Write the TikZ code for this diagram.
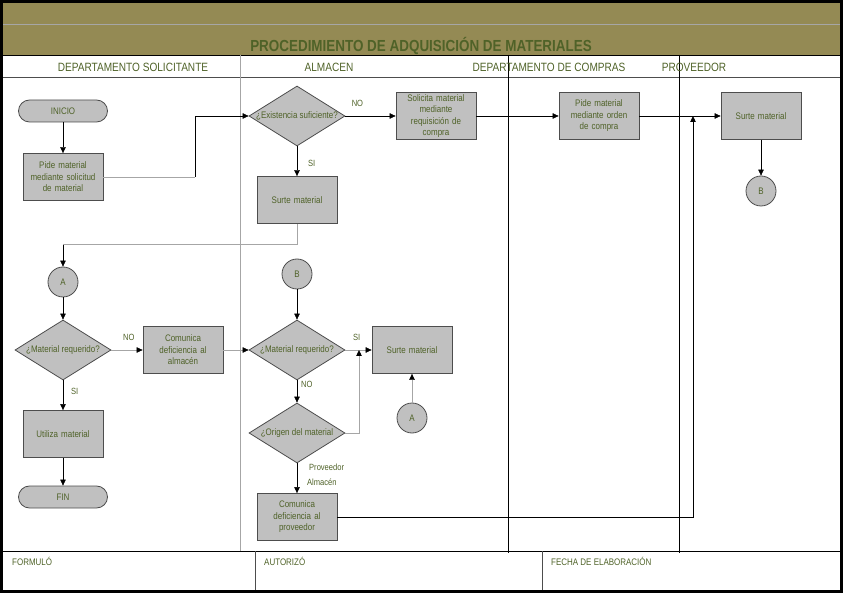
\documentclass[tikz,border=0pt]{standalone}
\usepackage{fontspec}
\setmainfont{Liberation Sans}
\newfontfamily\narrowsf{Liberation Sans}[FakeStretch=0.84]
\usetikzlibrary{shapes.geometric,arrows.meta}
\definecolor{bandolive}{HTML}{948A54}
\definecolor{txtgreen}{HTML}{4F6228}
\definecolor{boxgray}{HTML}{C0C0C0}
\definecolor{edgegray}{HTML}{4D4D4D}
\definecolor{linegray}{HTML}{A6A6A6}
\begin{document}
\begin{tikzpicture}[x=1pt,y=-1pt,
    >={Triangle[length=6pt,width=5.5pt]},
    font=\narrowsf\fontsize{9.5}{11.5}\selectfont, text=txtgreen,
    box/.style={draw=edgegray,fill=boxgray,line width=.8pt,minimum width=80pt,minimum height=47pt,text width=76pt,align=center,inner sep=0pt},
    dec/.style={diamond,aspect=1.6,draw=edgegray,fill=boxgray,line width=.8pt,minimum width=96pt,minimum height=60pt,inner sep=0pt},
    term/.style={draw=edgegray,fill=boxgray,line width=.8pt,rounded corners=11pt,minimum width=89pt,minimum height=22pt},
    conn/.style={circle,draw=edgegray,fill=boxgray,line width=.8pt,minimum size=30pt,inner sep=0pt},
    lbl/.style={font=\narrowsf\fontsize{9}{11}\selectfont,inner sep=0pt},
    lane/.style={font=\narrowsf\fontsize{12}{14}\selectfont,anchor=base,inner sep=0pt},
    foot/.style={font=\narrowsf\fontsize{9.5}{11}\selectfont,anchor=base west,inner sep=0pt}]

      \useasboundingbox (0,0) rectangle (843,593);

      \fill[bandolive] (3,3) rectangle (841,55);
      \draw[linegray,line width=1pt] (3,24.5) -- (841,24.5);
      \draw (3,55) -- (841,55);
      \draw[edgegray] (3,77) -- (841,77);
      \draw[linegray] (240,55) -- (240,551);
      \draw (508,55) -- (508,553);
      \draw (679,55) -- (679,553);
      \draw (3,551) -- (841,551);
      \draw[edgegray] (255,551) -- (255,590) (542,551) -- (542,590);
      \draw[line width=3pt] (1.5,1.5) rectangle (841.5,591.5);

      \node[anchor=base,inner sep=0pt,font=\narrowsf\bfseries\fontsize{16}{18}\selectfont] (t) at (421,52) {PROCEDIMIENTO DE ADQUISICIÓN DE MATERIALES};
      \node[lane] (h1) at (133,72) {DEPARTAMENTO SOLICITANTE};
      \node[lane] (h2) at (329,72) {ALMACEN};
      \node[lane] (h3) at (549,72) {DEPARTAMENTO DE COMPRAS};
      \node[lane] (h4) at (694,72) {PROVEEDOR};
      \node[foot] (f1) at (12,565) {FORMULÓ};
      \node[foot] (f2) at (264,565) {AUTORIZÓ};
      \node[foot] (f3) at (551,565) {FECHA DE ELABORACIÓN};

      \node[term] (1)  at (63,111)  {INICIO};
      \node[box]  (2)  at (63,177)  {Pide material\\mediante solicitud\\de material};
      \node[dec]  (3)  at (297,116) {¿Existencia suficiente?};
      \node[box]  (4)  at (436,116) {Solicita material\\mediante\\requisición de\\compra};
      \node[box]  (5)  at (297,200) {Surte material};
      \node[box]  (6)  at (599,116) {Pide material\\mediante orden\\de compra};
      \node[box]  (7)  at (761,116) {Surte material};
      \node[conn] (8)  at (761,191) {B};
      \node[conn] (9)  at (63,282)  {A};
      \node[dec]  (10) at (63,350)  {¿Material requerido?};
      \node[box]  (11) at (183,350) {Comunica\\deficiencia al\\almacén};
      \node[box]  (12) at (63,434)  {Utiliza material};
      \node[term] (13) at (63,497)  {FIN};
      \node[conn] (14) at (297,274) {B};
      \node[dec]  (15) at (297,350) {¿Material requerido?};
      \node[box]  (16) at (412,350) {Surte material};
      \node[conn] (17) at (412,418) {A};
      \node[dec]  (18) at (297,433) {¿Origen del material};
      \node[box]  (19) at (297,517) {Comunica\\deficiencia al\\proveedor};

      \coordinate (c1) at (195,177);
      \coordinate (c2) at (63,244);
      \coordinate (c3) at (359,350);
      \coordinate (c4) at (693,116);

      \begin{scope}[every edge/.style={draw,->}]
        \path (1)  edge (2);
        \path (3)  edge node[lbl,pos=.24,above=9pt] {NO} (4);
        \path (3)  edge node[lbl,pos=.56,right=11pt] {SI} (5);
        \path (4)  edge (6);
        \path (6)  edge (7);
        \path (7)  edge (8);
        \path (c2) edge (9);
        \path (9)  edge (10);
        \path (10) edge node[lbl,pos=.36,right=8pt] {SI} (12);
        \path (12) edge (13);
        \path (14) edge (15);
        \path (15) edge node[lbl,pos=.17,right=4pt] {NO} (18);
        \path (18) edge node[lbl,pos=.13,right=12pt] {Proveedor}
                        node[lbl,pos=.63,right=10pt] {Almacén} (19);
      \end{scope}

      \begin{scope}[every edge/.style={draw=linegray,-{Triangle[length=6pt,width=5.5pt,color=black]}}]
        \path (10) edge node[lbl,pos=.56,above=9pt] {NO} (11);
        \path (11) edge (15);
        \path (15) edge node[lbl,pos=.43,above=9pt] {SI} (16);
        \path (17) edge (16);
      \end{scope}

      \draw[linegray] (2) -- (c1);
      \draw[->] (c1) |- (3);
      \draw[linegray] (5) |- (c2);
      \draw[linegray,-{Triangle[length=6pt,width=5.5pt,color=black]}] (18) -| (c3);
      \draw[->] (19) -| (c4);

    \end{tikzpicture}
\end{document}
